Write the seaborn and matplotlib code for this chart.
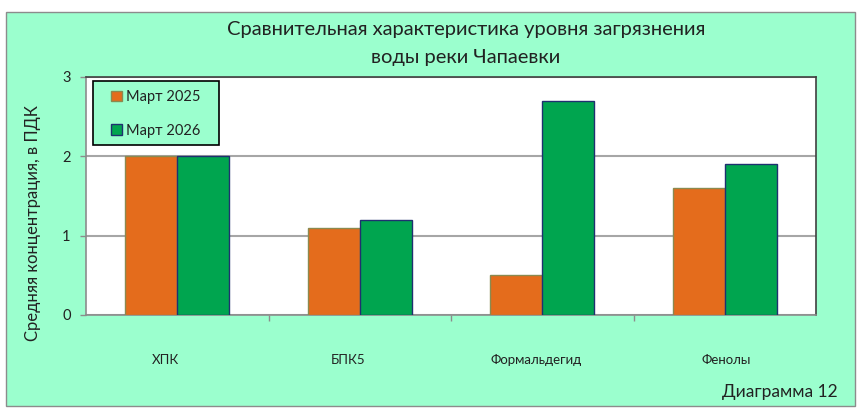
import matplotlib
matplotlib.use("Agg")
import matplotlib.pyplot as plt
import matplotlib.transforms as mtransforms
from matplotlib.patches import Rectangle, Patch
import seaborn as sns
import pandas as pd

categories = ["ХПК", "БПК5", "Формальдегид", "Фенолы"]
series_names = ["Март 2025", "Март 2026"]
values_2025 = [2.0, 1.1, 0.5, 1.6]
values_2026 = [2.0, 1.2, 2.7, 1.9]
y_ticks = [0, 1, 2, 3]
title_lines = ["Сравнительная характеристика уровня загрязнения", "воды реки Чапаевки"]
y_label = "Средняя концентрация, в ПДК"
caption = "Диаграмма 12"

bar_colors = ["#E46C1C", "#00A54F"]
edge_colors = ["#8A8A50", "#1F3070"]
bg_green = "#9BFFCE"

df = pd.DataFrame({
    "category": categories * 2,
    "series": [series_names[0]] * len(categories) + [series_names[1]] * len(categories),
    "value": values_2025 + values_2026,
})

sns.set_theme(style="white")
plt.rcParams["font.family"] = ["Lato", "DejaVu Sans"]

W, H = 860, 408
fig = plt.figure(figsize=(W / 100, H / 100), dpi=100)
fig.patch.set_facecolor("white")

def fx(px):
    return px / W

def fy(py):
    return 1 - py / H

# green chart frame
fig.patches.append(Rectangle((fx(6), fy(406)), fx(849), 394 / H, transform=fig.transFigure,
                             facecolor=bg_green, edgecolor="#8C8C8C", lw=1, zorder=-10))

ax = fig.add_axes([fx(86), fy(315), fx(730), 238 / H])
ax.set_facecolor("white")

sns.barplot(data=df, x="category", y="value", hue="series", order=categories,
            hue_order=series_names, palette=bar_colors, saturation=1, width=0.57,
            ax=ax, legend=False, zorder=3)
for cont, ec in zip(ax.containers, edge_colors):
    for bar in cont:
        bar.set_edgecolor(ec)
        bar.set_linewidth(1.0)

ax.set_xlim(-0.5, len(categories) - 0.5)
ax.set_ylim(0, 3)
ax.set_yticks(y_ticks)
ax.set_yticklabels([str(t) for t in y_ticks])
ax.set_xlabel("")
ax.set_ylabel("")
ax.yaxis.grid(True, color="#A6A6A6", lw=1.5, zorder=0)
ax.set_axisbelow(True)

for side in ["left", "bottom"]:
    ax.spines[side].set_color("#8C8C8C")
    ax.spines[side].set_linewidth(1.2)
for side in ["top", "right"]:
    ax.spines[side].set_color("#404040")
    ax.spines[side].set_linewidth(1.2)

ax.tick_params(axis="y", left=True, direction="out", length=4, width=1, color="#8C8C8C",
               labelsize=10.5, pad=7, labelcolor="#222222")
ax.tick_params(axis="x", bottom=False, length=0, labelsize=9.5, pad=28, labelcolor="#222222")
ax.set_xticks([i + 0.5 for i in range(len(categories) - 1)], minor=True)
ax.tick_params(axis="x", which="minor", bottom=True, direction="out", length=4, width=1,
               color="#8C8C8C")

label_shift_px = [-12, -12, -6, 1]
for lbl, dx in zip(ax.get_xticklabels(), label_shift_px):
    lbl.set_transform(lbl.get_transform() + mtransforms.ScaledTranslation(dx / 100, 0, fig.dpi_scale_trans))

# legend frame drawn by hand
fig.patches.append(Rectangle((fx(93), fy(145)), fx(126), 64 / H, transform=fig.transFigure,
                             facecolor=bg_green, edgecolor="black", lw=1.2, zorder=5))
handles = [Patch(facecolor=c, edgecolor=e, lw=1) for c, e in zip(bar_colors, edge_colors)]
leg = fig.legend(handles, series_names, loc="upper left", bbox_to_anchor=(fx(111), fy(90)),
                 bbox_transform=fig.transFigure, frameon=False, fontsize=10.5,
                 handlelength=0.75, handleheight=0.75, handletextpad=0.3,
                 labelspacing=1.35, borderpad=0, borderaxespad=0)
leg.set_zorder(6)
for t in leg.get_texts():
    t.set_color("#222222")

fig.text(fx(466), fy(30), title_lines[0], ha="center", va="center", fontsize=14.5, color="#222222")
fig.text(fx(466), fy(57), title_lines[1], ha="center", va="center", fontsize=14.5, color="#222222")
fig.text(fx(33), fy(223), y_label, ha="center", va="center", rotation=90, fontsize=12, color="#222222")
fig.text(fx(838), fy(392), caption, ha="right", va="center", fontsize=12.5, color="#222222")

fig.savefig("out.png", dpi=100, facecolor=fig.get_facecolor())
